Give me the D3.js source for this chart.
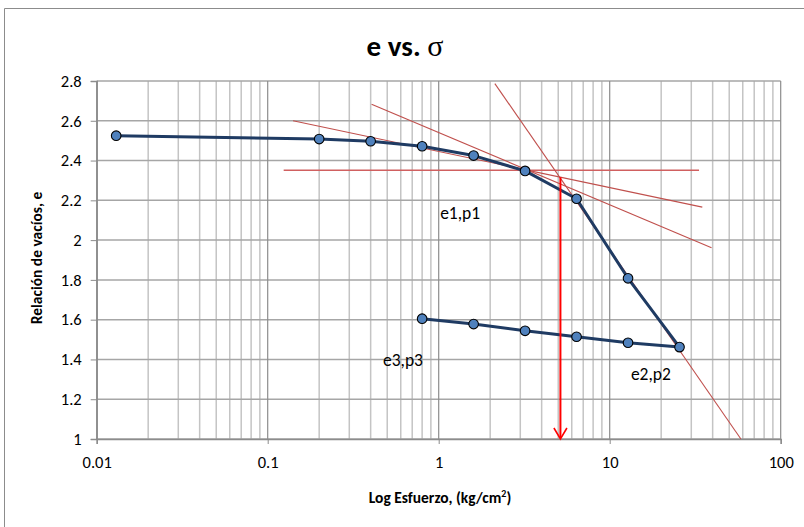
<!DOCTYPE html>
<html><head><meta charset="utf-8">
<script src="https://cdn.jsdelivr.net/npm/d3@7"></script>
<style>body{margin:0;background:#fff}svg{display:block}text{font-family:Carlito,Lato,"Liberation Sans",sans-serif}</style>
</head><body><svg id="c" width="804" height="527"></svg>
<script>
// Data
const stress = [0.013, 0.2, 0.4, 0.8, 1.6, 3.2, 6.4, 12.8, 25.6, 12.8, 6.4, 3.2, 1.6, 0.8];
const voidRatio = [2.525, 2.508, 2.497, 2.472, 2.425, 2.348, 2.208, 1.808, 1.462, 1.484, 1.514, 1.544, 1.578, 1.605];
const xTicks = [0.01, 0.1, 1, 10, 100];
const xTickLabels = ["0.01", "0.1", "1", "10", "100"];
const yTicks = [1, 1.2, 1.4, 1.6, 1.8, 2, 2.2, 2.4, 2.6, 2.8];
// Casagrande construction lines [x1, e1, x2, e2]
const horizLine = [0.124, 2.351, 33.3, 2.351];
const tangentLine = [0.1406, 2.600, 34.8, 2.166];
const bisectorLine = [0.405, 2.683, 39.4, 1.962];
const virginLine = [2.13, 2.787, 58.5, 1.0];
const arrowLine = [5.15, 2.316, 5.15, 1.0];
const labels = [{t:"e1,p1", x:1.02, e:2.106}, {t:"e3,p3", x:0.472, e:1.367}, {t:"e2,p2", x:13.3, e:1.297}];

const svg = d3.select("#c");
const L = 96.7, R = 780.7, T = 81, B = 439;
const x = d3.scaleLog().domain([0.01, 100]).range([L, R]);
const y = d3.scaleLinear().domain([1, 2.8]).range([B, T]);

// outer border (top/left)
svg.append("path").attr("d", `M4.5,527 V8.5 H804`).attr("fill","none").attr("stroke","#8c8c8c").attr("stroke-width",1);

// minor vertical gridlines
const minor = [];
for (let d = -2; d < 2; d++) for (let k = 2; k <= 9; k++) minor.push(k * Math.pow(10, d));
svg.append("g").selectAll("line").data(minor).join("line")
  .attr("x1", d => x(d)).attr("x2", d => x(d)).attr("y1", T).attr("y2", B)
  .attr("stroke", "#c4c4c4").attr("stroke-width", 1.5);
// horizontal gridlines
svg.append("g").selectAll("line").data(yTicks).join("line")
  .attr("x1", L).attr("x2", R).attr("y1", d => y(d)).attr("y2", d => y(d))
  .attr("stroke", "#a6a6a6").attr("stroke-width", 1.5);
// major vertical gridlines
svg.append("g").selectAll("line").data(xTicks).join("line")
  .attr("x1", d => x(d)).attr("x2", d => x(d)).attr("y1", T).attr("y2", B)
  .attr("stroke", "#8c8c8c").attr("stroke-width", 1.2);

// axes
const yAxis = d3.axisLeft(y).tickValues(yTicks).tickSize(6).tickPadding(9).tickFormat(d3.format("~g"));
const gy = svg.append("g").attr("transform", `translate(${L},0)`).call(yAxis);
gy.select(".domain").attr("stroke", "#8c8c8c").attr("stroke-width", 1.5);
gy.selectAll(".tick line").attr("stroke", "#8c8c8c");
gy.selectAll("text").attr("font-size", 16.5).attr("fill", "#000").style("font-family","Carlito,Lato,sans-serif");

const xAxis = d3.axisBottom(x).tickValues(xTicks).tickSize(5).tickPadding(12).tickFormat((d, i) => xTickLabels[i]);
const gx = svg.append("g").attr("transform", `translate(0,${B})`).call(xAxis);
gx.select(".domain").attr("stroke", "#8c8c8c").attr("stroke-width", 1.5);
gx.selectAll(".tick line").attr("stroke", "#8c8c8c");
gx.selectAll("text").attr("font-size", 16.5).attr("fill", "#000").style("font-family","Carlito,Lato,sans-serif");

// construction lines
const seg = (a, col, w) => svg.append("line")
  .attr("x1", x(a[0])).attr("y1", y(a[1])).attr("x2", x(a[2])).attr("y2", y(a[3]))
  .attr("stroke", col).attr("stroke-width", w);
seg(horizLine, "#d06060", 1.6);
seg(tangentLine, "#c0504d", 1.1);
seg(bisectorLine, "#c0504d", 1.1);
seg(virginLine, "#c0504d", 1.1);

// data line + markers
const pts = stress.map((s, i) => [s, voidRatio[i]]);
svg.append("path").datum(pts)
  .attr("d", d3.line().x(d => x(d[0])).y(d => y(d[1])))
  .attr("fill", "none").attr("stroke", "#1f3b63").attr("stroke-width", 3).attr("stroke-linejoin","round");
svg.append("g").selectAll("circle").data(pts).join("circle")
  .attr("cx", d => x(d[0])).attr("cy", d => y(d[1])).attr("r", 4.8)
  .attr("fill", "#4f81bd").attr("stroke", "#000").attr("stroke-width", 1.1);

// red arrow
const ax = x(arrowLine[0]), ay1 = y(arrowLine[1]), ay2 = y(arrowLine[3]);
svg.append("line").attr("x1", ax).attr("x2", ax).attr("y1", ay1).attr("y2", ay2 - 1)
  .attr("stroke", "#ff0000").attr("stroke-width", 2);
svg.append("path").attr("d", `M${ax-6.5},${ay2-11} L${ax},${ay2} L${ax+6.5},${ay2-11}`)
  .attr("fill", "none").attr("stroke", "#ff0000").attr("stroke-width", 1.6);

// labels
svg.append("g").selectAll("text").data(labels).join("text")
  .attr("x", d => x(d.x)).attr("y", d => y(d.e)).attr("font-size", 17.5).attr("fill", "#000")
  .text(d => d.t);

// title
const title = svg.append("text").attr("x", 405).attr("y", 56).attr("text-anchor", "middle")
  .attr("font-size", 29).attr("font-weight", "bold");
title.append("tspan").text("e vs. ");
title.append("tspan").attr("font-family", "'Liberation Serif','DejaVu Serif',serif").attr("font-weight","normal").attr("font-size", 30).text("σ");

// axis titles
svg.append("text").attr("transform", "translate(42,258) rotate(-90)").attr("text-anchor", "middle")
  .attr("font-size", 15.5).attr("font-weight", "bold").text("Relación de vacíos, e");
const xt = svg.append("text").attr("x", 440).attr("y", 503).attr("text-anchor", "middle")
  .attr("font-size", 15.5).attr("font-weight", "bold");
xt.append("tspan").text("Log Esfuerzo, (kg/cm");
xt.append("tspan").attr("font-size", 10).attr("dy", -6).text("2");
xt.append("tspan").attr("dy", 6).text(")");
</script></body></html>
